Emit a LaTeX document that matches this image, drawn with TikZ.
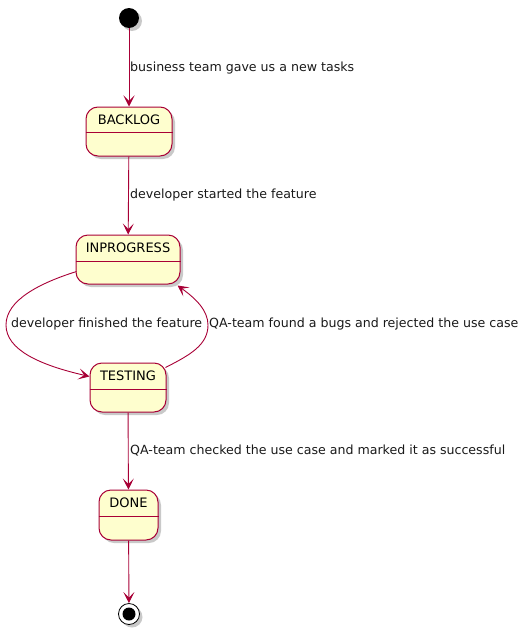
\documentclass[tikz,border=0pt]{standalone}
\usepackage{fontspec}
\setmainfont{DejaVu Sans}
\usetikzlibrary{arrows.meta,shadows,calc}
\definecolor{umlred}{HTML}{A80036}
\definecolor{umlfill}{HTML}{FEFECE}
\tikzset{
  shad/.style={drop shadow={shadow xshift=3pt,shadow yshift=-3pt,opacity=0.3,fill=black!70}},
  statebox/.style={draw=umlred,fill=umlfill,line width=1pt,rounded corners=12pt,shad,inner sep=0pt},
  statename/.style={font=\fontsize{13}{15}\selectfont,inner sep=0pt,anchor=center},
  divider/.style={draw=umlred,line width=1pt},
  edge/.style={draw=umlred,line width=0.9pt,-{Stealth[length=11pt,width=11pt,inset=5.5pt]}},
  elabel/.style={font=\fontsize{12.6}{15}\selectfont,inner sep=0pt,text=black!90},
}
\begin{document}
\begin{tikzpicture}[x=1pt,y=-1pt]
\useasboundingbox (0,0) rectangle (529,632);
% start
\node[circle,fill=black,minimum size=20pt,inner sep=0pt,shad] (start) at (129,18) {};
% states
\node[statebox,minimum width=86pt,minimum height=49pt] (backlog) at (129,131.5) {};
\node[statename] (backlogname) at (129,120) {BACKLOG};
\draw[divider] (backlog.west |- 0,132) -- (backlog.east |- 0,132);

\node[statebox,minimum width=104pt,minimum height=49pt] (inprogress) at (128,259.5) {};
\node[statename] (inprogressname) at (128,248) {INPROGRESS};
\draw[divider] (inprogress.west |- 0,261) -- (inprogress.east |- 0,261);

\node[statebox,minimum width=76pt,minimum height=49pt] (testing) at (128,387.5) {};
\node[statename] (testingname) at (128,376) {TESTING};
\draw[divider] (testing.west |- 0,389) -- (testing.east |- 0,389);

\node[statebox,minimum width=59pt,minimum height=50pt] (done) at (128.5,515) {};
\node[statename] (donename) at (128.5,503) {DONE};
\draw[divider] (done.west |- 0,516) -- (done.east |- 0,516);

% end
\node[circle,draw=black,fill=white,line width=0.8pt,minimum size=21pt,inner sep=0pt,shad] (endc) at (129,614) {};
\node[circle,fill=black,minimum size=13pt,inner sep=0pt] (endin) at (129,614) {};

% edges
\draw[edge] (start) -- (backlog);
\node[elabel,anchor=west] (l1) at (130,68) {business team gave us a new tasks};
\draw[edge] (backlog) -- (inprogress);
\node[elabel,anchor=west] (l2) at (130,195) {developer started the feature};
\draw[edge] ($(inprogress.west)+(1,12)$) .. controls (40,283) and (6,300) .. (6,325)
   .. controls (6,350) and (40,365) .. ($(testing.west)+(0,-11)$);
\node[elabel,anchor=west] (l3) at (11,324) {developer finished the feature};
\draw[edge] ($(testing.east)+(-1,-20)$) .. controls (190,355) and (208,345) .. (208,325)
   .. controls (208,310) and (195,298) .. ($(inprogress.south east)+(-3,1)$);
\node[elabel,anchor=west] (l4) at (209,324) {QA-team found a bugs and rejected the use case};
\draw[edge] (testing) -- (done);
\node[elabel,anchor=west] (l5) at (130,451) {QA-team checked the use case and marked it as successful};
\draw[edge] (done) -- (endc);
\end{tikzpicture}
\end{document}
